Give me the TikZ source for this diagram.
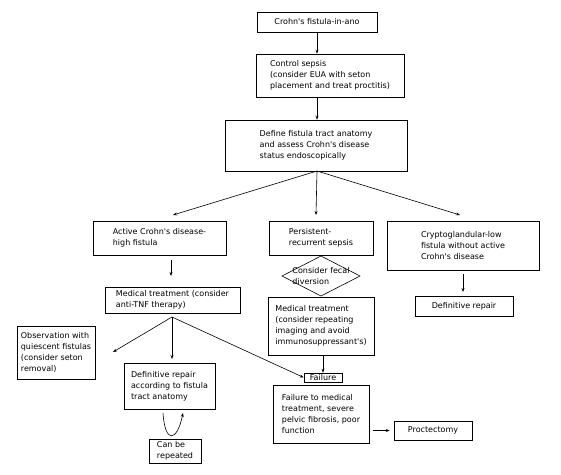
\documentclass[tikz,border=0pt]{standalone}
\usepackage{fontspec}
\setmainfont{DejaVu Sans}[Ligatures=TeXOff]
\usetikzlibrary{arrows.meta}
\tikzset{
    box/.style={draw, align=left, inner sep=0pt, font=\fontsize{8}{11}\selectfont},
    pijl/.style={-{Stealth[length=4pt,width=3pt]}}
}

\begin{document}
\begin{tikzpicture}[x=1pt,y=-1pt,line width=0.6pt]
    \useasboundingbox (0,0) rectangle (561,474);
    \node[box, minimum width=120, minimum height=20] (start) at (317,22) {Crohn's fistula-in-ano};
    \node[box, minimum width=148, minimum height=43] (sepsis) at (330,75.5) {Control sepsis\\(consider EUA with seton\\placement and treat proctitis)};
    \node[box, minimum width=182, minimum height=51] (define) at (316,145.5) {Define fistula tract anatomy\\and assess Crohn's disease\\status endoscopically};
    \draw[pijl] (start.south) -- (start.south |- sepsis.north);
    \draw[pijl] (sepsis.south -| start.south) -- (start.south |- define.north);

    \node[box, minimum width=133, minimum height=34] (active) at (159.5,238) {Active Crohn's disease-\\high fistula};
    \node[box, minimum width=104, minimum height=34] (persist) at (321,238) {Persistent-\\recurrent sepsis};
    \node[box, minimum width=152, minimum height=49] (crypto) at (463,245.5) {Cryptoglandular-low\\fistula without active\\Crohn's disease};
    \coordinate (split) at (317,171);
    \draw[pijl] (split) -- (173,215);
    \draw[pijl] (split) -- (316,215);
    \draw[pijl] (split) -- (460,215);

    % middelste kolom
    \node[box, draw=none] (fecal) at (321,276) {Consider fecal\\diversion};
    \draw (fecal.center) ++(-39,0) -- ++(39,-20) -- ++(39,20) -- ++(-39,20) -- cycle;
    \node[box, minimum width=106, minimum height=58] (medrep) at (321,326) {Medical treatment\\(consider repeating\\imaging and avoid\\immunosuppressant's)};
    \node[box, minimum width=38, minimum height=9] (failure) at (323,377.5) {Failure};
    \node[box, minimum width=96, minimum height=58] (failmed) at (321,414) {Failure to medical\\treatment, severe\\pelvic fibrosis, poor\\function};
    \node[box, minimum width=78, minimum height=19] (proct) at (433,430.5) {Proctectomy};
    \draw[pijl] (medrep.south -| failure.north) -- (failure.north);
    \draw[pijl] ([xshift=4]failmed.east |- proct.center) -- ([xshift=-4]proct.west);

    % linker kolom
    \node[box, minimum width=135, minimum height=26] (medanti) at (172.5,300) {Medical treatment (consider\\anti-TNF therapy)};
    \node[box, minimum width=78, minimum height=53] (observ) at (56,352.5) {Observation with\\quiescent fistulas\\(consider seton\\removal)};
    \node[box, minimum width=91, minimum height=46] (defrep) at (169.5,386) {Definitive repair\\according to fistula\\tract anatomy};
    \node[box, minimum width=52, minimum height=24] (repeat) at (175,451) {Can be\\repeated};
    \draw[pijl] (171,260) -- (171,276);
    \coordinate (fork) at (172,317);
    \draw[pijl] (fork) -- (113,352);
    \draw[pijl] (fork) -- (172,359);
    \draw[pijl] (fork) -- (failure.west);
    \draw[pijl] (163,413) .. controls (165,444) and (177,442) .. (183,413);

    % rechter kolom
    \node[box, minimum width=98, minimum height=20] (defright) at (464,306) {Definitive repair};
    \draw[pijl] (463,274) -- (463,292);
\end{tikzpicture}
\end{document}
